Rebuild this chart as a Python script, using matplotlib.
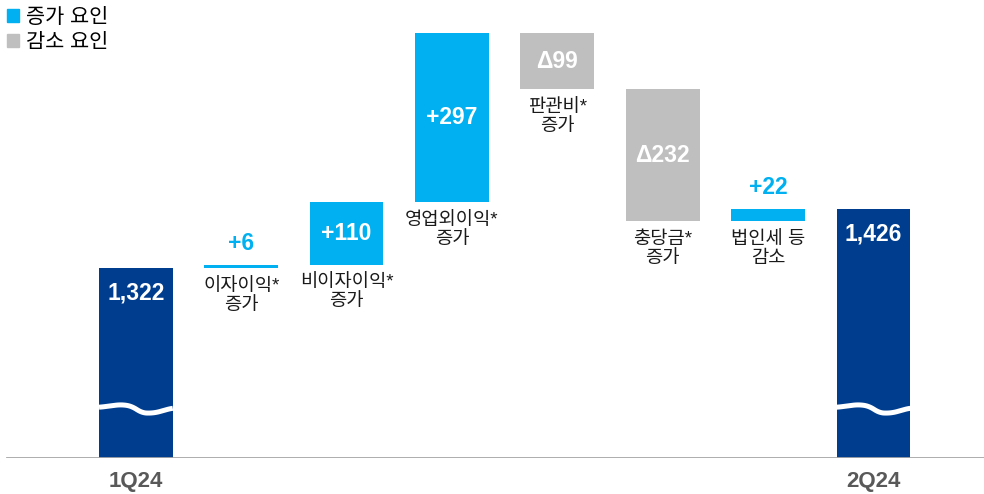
import numpy as np
import matplotlib.pyplot as plt
from matplotlib.patches import Patch

plt.rcParams["font.family"] = ["Liberation Sans", "Noto Sans CJK KR", "DejaVu Sans"]

# Waterfall data (unit: 억원)
start_label = "1Q24"
end_label = "2Q24"
start_value = 1322
end_value = 1426
step_names = ["이자이익*\n증가", "비이자이익*\n증가", "영업외이익*\n증가", "판관비*\n증가",
              "충당금*\n증가", "법인세 등\n감소"]
step_values = [6, 110, 297, -99, -232, 22]
step_texts = ["+6", "+110", "+297", "Δ99", "Δ232", "+22"]
legend_labels = ["증가 요인", "감소 요인"]

NAVY = "#003D8F"
CYAN = "#00B0F0"
GRAY = "#BFBFBF"

fig = plt.figure(figsize=(9.84, 4.94), dpi=100)
ax = fig.add_axes([0, 36 / 494, 1, 458 / 494])

y_floor = 988  # broken axis: bars start here
ax.set_ylim(y_floor, 1793)
ax.set_xlim(-1.29, 8.05)
width = 0.70

# start / end bars
ax.bar(0, start_value - y_floor, bottom=y_floor, width=width, color=NAVY)
ax.bar(7, end_value - y_floor, bottom=y_floor, width=width, color=NAVY)
for x, v in [(0, start_value), (7, end_value)]:
    ax.annotate(f"{v:,}", (x, v), xytext=(0, -10), textcoords="offset points",
                ha="center", va="top", color="white", fontsize=16.5, fontweight="bold")

# break marks on the start / end bars
s = np.linspace(0, 1, 60)
pts_s = [0, 0.3, 0.45, 0.58, 0.75, 1.0]
pts_y = [1077, 1082, 1079, 1067, 1067, 1076]
wave = np.interp(s, pts_s, pts_y)
wave = np.convolve(np.pad(wave, 4, mode="edge"), np.ones(9) / 9, mode="valid")
for x in [0, 7]:
    ax.plot(x - width / 2 + s * width, wave, color="white", lw=3.6, solid_capstyle="butt")

# steps
running = start_value
for i, (name, val, txt) in enumerate(zip(step_names, step_values, step_texts), start=1):
    lo, hi = sorted([running, running + val])
    color = CYAN if val > 0 else GRAY
    ax.bar(i, hi - lo, bottom=lo, width=width, color=color)
    if abs(val) < 50:
        ax.annotate(txt, (i, hi), xytext=(0, 7), textcoords="offset points",
                    ha="center", va="bottom", color=CYAN, fontsize=16.5, fontweight="bold")
    else:
        ax.text(i, (lo + hi) / 2, txt, ha="center", va="center", color="white",
                fontsize=16.5, fontweight="bold")
    ax.annotate(name, (i, lo), xytext=(0, -7), textcoords="offset points",
                ha="center", va="top", color="#1A1A1A", fontsize=13.5, linespacing=1.15)
    running += val

# baseline and x labels
ax.axhline(y_floor, xmin=0.007, xmax=1, color="#A6A6A6", lw=2)
for x, lab in [(0, start_label), (7, end_label)]:
    ax.text(x, y_floor - 41, lab, ha="center", va="center", color="#595959",
            fontsize=16, fontweight="bold")

ax.axis("off")
for art in ax.texts:
    art.set_clip_on(False)

handles = [Patch(color=CYAN), Patch(color=GRAY)]
fig.legend(handles, legend_labels, loc="upper left", bbox_to_anchor=(-0.012, 1.022),
           frameon=False, fontsize=15, handlelength=0.6, handleheight=0.6,
           handletextpad=0.3, labelspacing=0.3)

fig.savefig("out.png", dpi=100)
